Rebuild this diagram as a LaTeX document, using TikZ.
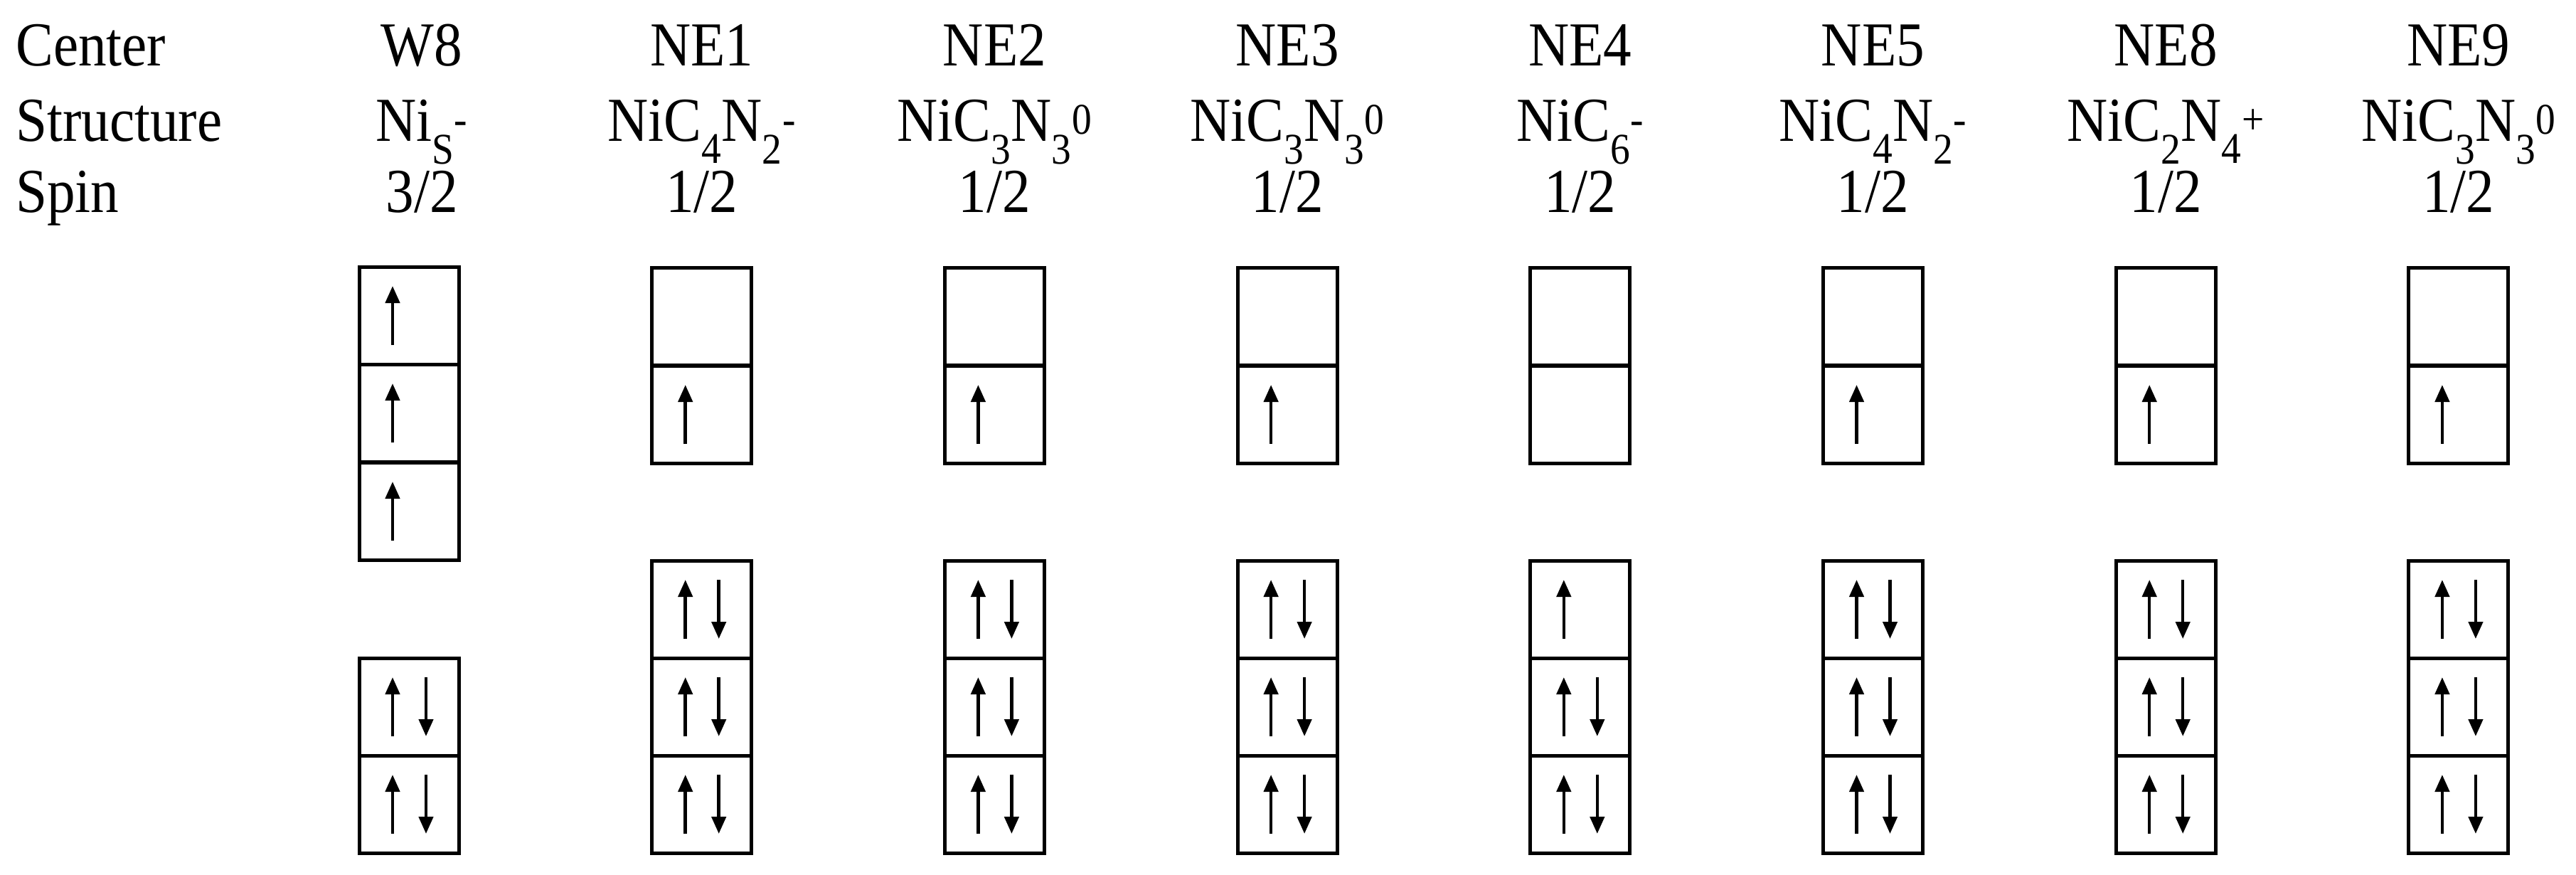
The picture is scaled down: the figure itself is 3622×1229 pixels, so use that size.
\documentclass[tikz,border=0pt]{standalone}
\usepackage{fontspec}
\setmainfont{Liberation Serif}
\usetikzlibrary{arrows.meta,calc}
\begin{document}
\begin{tikzpicture}[x=1pt,y=-1pt,
  cell/.style={draw,line width=5pt,minimum width=140pt,minimum height=137pt,inner sep=0pt,outer sep=0pt},
  spin/.style={line width=4.5pt,-{Triangle[length=24pt,width=20pt]}},
  hdr/.style={font=\fontsize{88}{96}\selectfont,inner sep=0pt,anchor=base,xscale=0.9}]
\useasboundingbox (0,0) rectangle (3622,1229);
\newcommand\upA[1]{\draw[spin] ($(#1)+(-23,41)$) -- ($(#1)+(-23,-42)$);}
\newcommand\dnA[1]{\draw[spin] ($(#1)+(24,-42)$) -- ($(#1)+(24,41)$);}
\node[hdr,anchor=base west] (lc) at (22,92) {Center};
\node[hdr,anchor=base west] (ls) at (22,198) {Structure};
\node[hdr,anchor=base west] (lp) at (22,298) {Spin};
\foreach \i/\nm/\st/\sp in {0/W8/Ni\textsubscript{S}\textsuperscript{-}/3\slash 2,
  1/NE1/NiC\textsubscript{4}N\textsubscript{2}\textsuperscript{-}/1\slash 2,
  2/NE2/NiC\textsubscript{3}N\textsubscript{3}\textsuperscript{0}/1\slash 2,
  3/NE3/NiC\textsubscript{3}N\textsubscript{3}\textsuperscript{0}/1\slash 2,
  4/NE4/NiC\textsubscript{6}\textsuperscript{-}/1\slash 2,
  5/NE5/NiC\textsubscript{4}N\textsubscript{2}\textsuperscript{-}/1\slash 2,
  6/NE8/NiC\textsubscript{2}N\textsubscript{4}\textsuperscript{+}/1\slash 2,
  7/NE9/NiC\textsubscript{3}N\textsubscript{3}\textsuperscript{0}/1\slash 2}{
  \pgfmathsetmacro\cx{575+411.7*\i+(\i==0?18:0)}
  \node[hdr] (h\i a) at (\cx,92) {\nm};
  \node[hdr] (h\i b) at (\cx,198) {\st};
  \node[hdr] (h\i c) at (\cx,298) {\sp};
}
% W8
\pgfmathsetmacro\cx{575}
\foreach \j/\y in {1/444,2/581,3/719}{\node[cell] (w\j) at (\cx,\y) {}; \upA{w\j}}
\foreach \j/\y in {4/994,5/1131}{\node[cell] (w\j) at (\cx,\y) {}; \upA{w\j}\dnA{w\j}}
% NE columns
\foreach \i in {1,...,7}{
  \pgfmathsetmacro\cx{575+411.7*\i}
  \node[cell] (n\i a) at (\cx,445) {};
  \node[cell] (n\i b) at (\cx,583) {};
  \node[cell] (n\i c) at (\cx,857) {};
  \node[cell] (n\i d) at (\cx,994) {};
  \node[cell] (n\i e) at (\cx,1131) {};
  \ifnum\i=4
    \upA{n\i c}
  \else
    \upA{n\i b}\upA{n\i c}\dnA{n\i c}
  \fi
  \upA{n\i d}\dnA{n\i d}\upA{n\i e}\dnA{n\i e}
}
\end{tikzpicture}
\end{document}
